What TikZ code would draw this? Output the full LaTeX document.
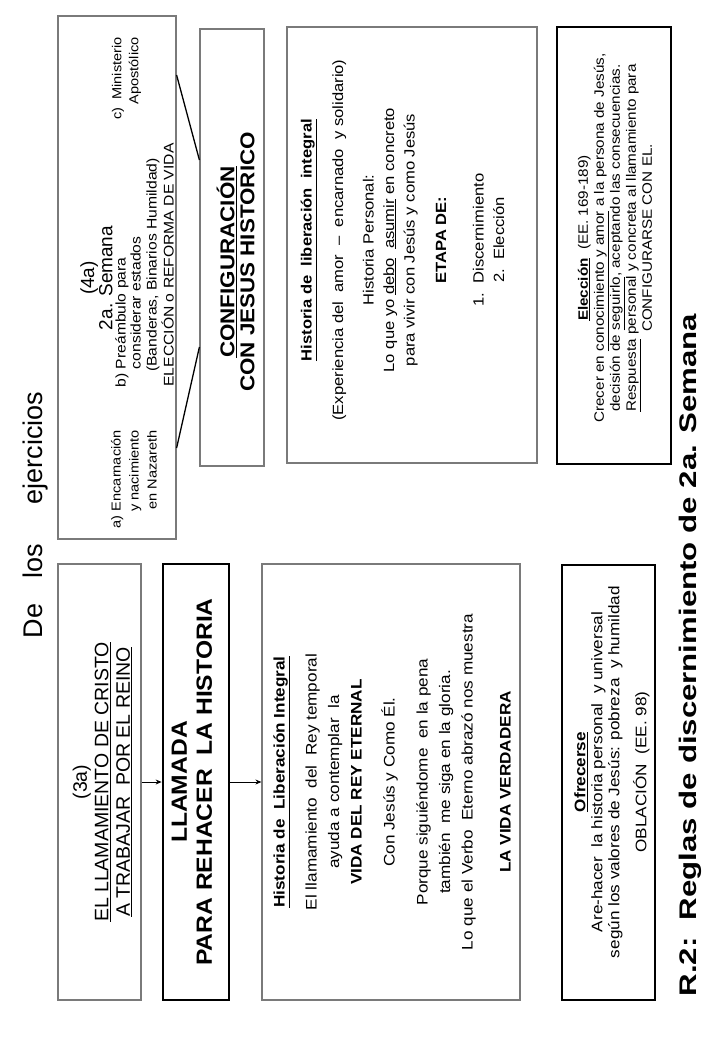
\documentclass[tikz,border=0pt]{standalone}
\usepackage{fontspec}
\setmainfont{Liberation Sans}[FakeStretch=1.12]
\newfontfamily\plainf{Liberation Sans}
\newfontfamily\rfont{Liberation Sans}[FakeStretch=1.3]
\usetikzlibrary{arrows.meta}
\newcommand\myfs[2]{\fontsize{#1pt}{#2pt}\selectfont}
\begin{document}
\begin{tikzpicture}[x=1pt,y=-1pt,
  thinbox/.style={draw=black!52, line width=1.2pt, inner sep=0pt},
  thickbox/.style={draw=black, line width=2.8pt, inner sep=0pt},
  txt/.style={rotate=90, align=center, inner sep=0pt},
  arr/.style={-{Stealth[length=6pt,width=5pt]}, line width=0.8pt},
  conn/.style={line width=1.3pt}]
\fill[white] (0,0) rectangle (721,1041);
\useasboundingbox (0,0) rectangle (721,1041);

% boxes
\node[thinbox, minimum width=83pt, minimum height=436pt] (b3a) at (99.5,782) {};
\node[thickbox, minimum width=66pt, minimum height=436pt] (bll) at (196,782) {};
\node[thinbox, minimum width=258pt, minimum height=436pt] (bhl) at (391,782) {};
\node[thickbox, minimum width=93pt, minimum height=435pt] (bof) at (608.5,782.5) {};
\node[thinbox, minimum width=118pt, minimum height=523pt] (b4a) at (117,277.5) {};
\node[thinbox, minimum width=64pt, minimum height=437pt] (bcf) at (232,247.5) {};
\node[thinbox, minimum width=250pt, minimum height=436pt] (bhu) at (412,245) {};
\node[thickbox, minimum width=114pt, minimum height=437pt] (bel) at (614,245.5) {};

% connectors
\draw[arr] (b3a) -- (bll);
\draw[arr] (bll) -- (bhl);
\draw[conn] (b4a.east |- 0,75) -- (bcf.west |- 0,160);
\draw[conn] (b4a.east |- 0,448) -- (bcf.west |- 0,347);

% title texts
\node[txt, anchor=base, font=\plainf\myfs{27}{30}] (tde) at (42,621) {De};
\node[txt, anchor=base, font=\plainf\myfs{27}{30}] (tlos) at (42,561) {los};
\node[txt, anchor=base, font=\plainf\myfs{27}{30}] (tej) at (42,448) {ejercicios};
\node[txt, anchor=base, font=\rfont\bfseries\myfs{24}{26}] (tr2) at (696,655) {R.2:\ \ Reglas de discernimiento de 2a. Semana};

% bottom row texts
\node[txt, font=\plainf\myfs{19.5}{21.5}] (t3a) at (102.5,782) {(3a)\\\underline{EL LLAMAMIENTO DE CRISTO}\\\underline{A TRABAJAR\ \ POR EL REINO}};
\node[txt, font=\bfseries\myfs{22}{25}] (tll) at (192,782) {LLAMADA\\PARA REHACER\ \ LA HISTORIA};
\node[txt, font=\myfs{15.3}{22.5}] (thl) at (392,782) {\textbf{\underline{Historia de\ \ Liberación Integral}}\\[9.5pt]
El llamamiento\ \ del\ \ Rey temporal\\
ayuda a contemplar\ \ la\\
\textbf{VIDA DEL REY ETERNAL}\\[10.5pt]
Con Jesús y Como Él.\\[10.5pt]
Porque siguiéndome\ \ en la pena\\
también\ \ me siga en la gloria.\\
Lo que el Verbo\ \ Eterno abrazó nos muestra\\[15.5pt]
\textbf{LA VIDA VERDADERA}};
\node[txt, font=\myfs{15.3}{17}] (tof) at (612,772) {\textbf{\underline{Ofrecerse}}\\
Are-hacer\ \ la historia personal\ \ y universal\\
según los valores de Jesús: pobreza\ \ y humildad\\[10pt]
OBLACIÓN\ \ (EE. 98)};

% top row texts
\node[txt, font=\plainf\myfs{19}{17}] (t4a) at (96.5,278) {(4a)\\2a. Semana};
\node[txt, align=left, font=\myfs{14}{15}] (tb1) at (128,312) {b)\ Preámbulo para\\\hphantom{b)\ }considerar estados};
\node[txt, font=\myfs{14}{17}] (tb2) at (160,265) {(Banderas, Binarios Humildad)\\ELECCIÓN o REFORMA DE VIDA};
\node[txt, align=right, anchor=east, font=\myfs{13}{17}] (tc) at (126.5,37) {c)\ \ Ministerio\\Apostólico};
\node[txt, align=right, anchor=east, font=\myfs{13}{18}] (ta) at (134,430) {a) Encarnación\\y nacimiento\\en Nazareth};
\node[txt, font=\bfseries\myfs{20}{20}] (tcf) at (235.5,262) {\underline{CONFIGURACIÓN}\\CON JESUS HISTORICO};
\node[txt, font=\myfs{14.8}{20.5}] (thu) at (402.5,240) {\textbf{\underline{Historia de\ \ liberación\ \ integral}}\\[11pt]
(Experiencia del\ \ amor\ \ --\ \ encarnado\ \ y\ solidario)\\[10pt]
Historia Personal:\\
Lo que yo \underline{debo}\ \ \underline{asumir} en concreto\\
para vivir con Jesús y como Jesús\\[11pt]
\textbf{ETAPA DE:}\\[17pt]
1.\ \ Discernimiento\\
2.\ \ Elección};
\node[txt, font=\myfs{13.6}{16}] (tel) at (615,238) {\textbf{\underline{Elección}}\ \ (EE. 169-189)\\
Crecer en \underline{conocimiento y amor} a la persona de Jesús,\\
decisión de \underline{seguirlo}, aceptando las consecuencias.\\
\underline{Respuesta} personal y concreta al llamamiento para\\
CONFIGURARSE CON EL.};
\end{tikzpicture}
\end{document}
